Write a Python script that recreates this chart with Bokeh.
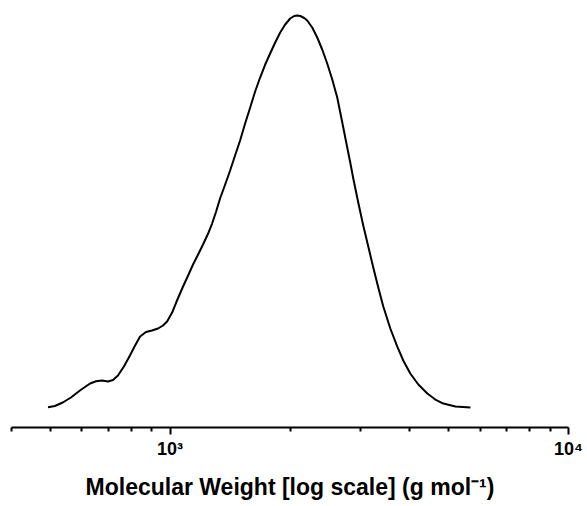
from bokeh.plotting import figure
from bokeh.models import FixedTicker, Range1d
from bokeh.embed import file_html
from bokeh.resources import INLINE

# Molecular weight (g/mol) and normalized intensity
mw = [494, 514, 538, 564, 594, 630, 652, 675, 699, 719, 740, 766, 793, 817,
      841, 870, 901, 933, 960, 983, 1012, 1041, 1078, 1110, 1142, 1176, 1210,
      1246, 1275, 1305, 1335, 1375, 1415, 1456, 1499, 1543, 1589, 1635, 1683,
      1733, 1783, 1836, 1890, 1945, 2002, 2049, 2085, 2122, 2171, 2209, 2274,
      2341, 2409, 2480, 2553, 2628, 2674, 2721, 2784, 2833, 2883, 2967, 3054,
      3144, 3236, 3331, 3429, 3571, 3718, 3849, 4008, 4199, 4423, 4632, 4852,
      5201, 5674]
intensity = [0.0084, 0.0114, 0.0203, 0.0329, 0.0506, 0.0684, 0.0742, 0.0759,
             0.0734, 0.0772, 0.0886, 0.1114, 0.1392, 0.1646, 0.1873, 0.1987,
             0.2025, 0.2076, 0.2152, 0.2253, 0.2481, 0.2785, 0.3139, 0.3418,
             0.3696, 0.3949, 0.4203, 0.4481, 0.4734, 0.5038, 0.5367, 0.5722,
             0.6076, 0.6456, 0.6835, 0.7266, 0.7671, 0.8076, 0.8430, 0.8759,
             0.9038, 0.9316, 0.9570, 0.9772, 0.9924, 0.9987, 1.0000, 0.9987,
             0.9937, 0.9873, 0.9696, 0.9443, 0.9139, 0.8785, 0.8380, 0.7924,
             0.7544, 0.7165, 0.6658, 0.6278, 0.5873, 0.5266, 0.4684, 0.4152,
             0.3620, 0.3114, 0.2633, 0.2076, 0.1620, 0.1266, 0.0937, 0.0658,
             0.0430, 0.0278, 0.0177, 0.0101, 0.0076]

major_ticks = [1000, 10000]
minor_ticks = [400, 500, 600, 700, 800, 900, 2000, 3000, 4000, 5000, 6000,
               7000, 8000, 9000]
tick_labels = {1000: "10\u00b3", 10000: "10\u2074"}
x_label = "Molecular Weight [log scale] (g mol\u207b\u00b9)"

p = figure(width=587, height=506, x_axis_type="log",
           x_range=Range1d(400, 10000), y_range=Range1d(-0.043, 1.0253),
           output_backend="svg", toolbar_location=None,
           min_border_left=11, min_border_right=19, min_border_top=5,
           min_border_bottom=79)

p.line(mw, intensity, line_color="black", line_width=2, line_join="round")

p.yaxis.visible = False
p.grid.visible = False
p.outline_line_color = None
p.background_fill_color = "white"
p.border_fill_color = "white"

ax = p.xaxis[0]
ax.ticker = FixedTicker(ticks=major_ticks, minor_ticks=minor_ticks)
ax.major_label_overrides = tick_labels
ax.axis_line_width = 2
ax.axis_line_color = "black"
ax.major_tick_line_width = 2
ax.minor_tick_line_width = 2
ax.major_tick_out = 7
ax.major_tick_in = 0
ax.minor_tick_out = 4
ax.minor_tick_in = 0
ax.major_label_text_font = "Liberation Sans"
ax.major_label_text_font_style = "bold"
ax.major_label_text_font_size = "18px"
ax.major_label_text_color = "black"
ax.major_label_standoff = 4
ax.axis_label = x_label
ax.axis_label_text_font = "Liberation Sans"
ax.axis_label_text_font_style = "bold"
ax.axis_label_text_font_size = "23px"
ax.axis_label_text_color = "black"
ax.axis_label_standoff = 12

open("out.html", "w").write(file_html(p, INLINE))
